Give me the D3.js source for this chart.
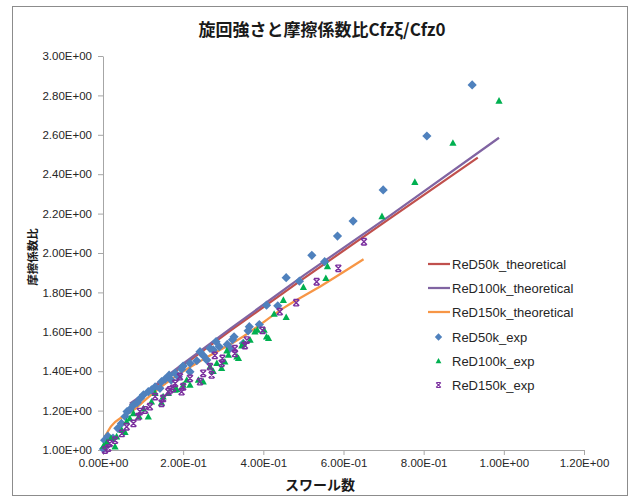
<!DOCTYPE html>
<html><head><meta charset="utf-8">
<script src="https://cdn.jsdelivr.net/npm/d3@7/dist/d3.min.js"></script>
<style>
html,body{margin:0;padding:0;background:#fff;}
svg{display:block;}
</style></head>
<body>
<script>
// ---- data ----
const xTickValues = [0, 0.2, 0.4, 0.6, 0.8, 1.0, 1.2];
const xTickLabels = ["0.00E+00","2.00E-01","4.00E-01","6.00E-01","8.00E-01","1.00E+00","1.20E+00"];
const yTickValues = [1.0,1.2,1.4,1.6,1.8,2.0,2.2,2.4,2.6,2.8,3.0];
const yTickLabels = ["1.00E+00","1.20E+00","1.40E+00","1.60E+00","1.80E+00","2.00E+00","2.20E+00","2.40E+00","2.60E+00","2.80E+00","3.00E+00"];

const seriesNames = ["ReD50k_theoretical","ReD100k_theoretical","ReD150k_theoretical","ReD50k_exp","ReD100k_exp","ReD150k_exp"];

const theo50k = [[0.067,1.228],[0.1,1.275],[0.2,1.43],[0.317,1.605],[0.5,1.87],[0.716,2.176],[0.935,2.484]];
const theo100k = [[0.067,1.235],[0.1,1.282],[0.2,1.438],[0.317,1.615],[0.5,1.885],[0.716,2.19],[0.988,2.585]];
const theo150k = [[0.003,1.06],[0.02,1.12],[0.05,1.17],[0.076,1.203],[0.12,1.28],[0.192,1.389],[0.25,1.46],[0.349,1.575],[0.45,1.72],[0.55,1.84],[0.65,1.968]];

const exp50k = [[0.001,1.005],[0.004,1.05],[0.012,1.07],[0.025,1.06],[0.037,1.11],[0.046,1.135],[0.055,1.17],[0.06,1.195],[0.067,1.205],[0.076,1.228],[0.085,1.24],[0.093,1.262],[0.101,1.28],[0.113,1.296],[0.121,1.305],[0.13,1.32],[0.142,1.313],[0.146,1.347],[0.155,1.36],[0.165,1.38],[0.17,1.355],[0.18,1.39],[0.188,1.372],[0.196,1.41],[0.2,1.426],[0.217,1.44],[0.217,1.397],[0.234,1.453],[0.242,1.499],[0.25,1.48],[0.259,1.457],[0.267,1.516],[0.275,1.508],[0.282,1.55],[0.29,1.524],[0.31,1.536],[0.317,1.516],[0.323,1.56],[0.327,1.575],[0.35,1.542],[0.362,1.605],[0.365,1.626],[0.39,1.637],[0.408,1.735],[0.436,1.732],[0.457,1.875],[0.49,1.857],[0.521,1.988],[0.553,1.956],[0.585,2.086],[0.624,2.162],[0.699,2.32],[0.808,2.594],[0.921,2.853]];

const exp100k = [[0.001,1.02],[0.01,1.04],[0.02,1.06],[0.03,1.017],[0.034,1.068],[0.047,1.1],[0.055,1.09],[0.059,1.144],[0.067,1.16],[0.076,1.186],[0.09,1.17],[0.101,1.21],[0.113,1.169],[0.121,1.245],[0.13,1.288],[0.146,1.24],[0.15,1.271],[0.163,1.288],[0.18,1.305],[0.184,1.308],[0.2,1.33],[0.209,1.355],[0.217,1.33],[0.238,1.355],[0.25,1.347],[0.267,1.423],[0.275,1.4],[0.284,1.44],[0.296,1.415],[0.304,1.448],[0.309,1.504],[0.313,1.482],[0.334,1.474],[0.338,1.466],[0.346,1.529],[0.35,1.542],[0.367,1.558],[0.379,1.601],[0.385,1.609],[0.402,1.609],[0.408,1.575],[0.413,1.567],[0.427,1.69],[0.45,1.761],[0.457,1.674],[0.5,1.826],[0.556,1.872],[0.56,1.932],[0.696,2.186],[0.778,2.36],[0.873,2.558],[0.988,2.772]];

const exp150k = [[0.005,1.0],[0.013,1.01],[0.017,1.034],[0.03,1.05],[0.047,1.084],[0.059,1.118],[0.076,1.135],[0.088,1.169],[0.092,1.195],[0.105,1.203],[0.117,1.22],[0.13,1.271],[0.146,1.237],[0.15,1.262],[0.163,1.296],[0.167,1.305],[0.175,1.313],[0.18,1.338],[0.192,1.372],[0.196,1.296],[0.2,1.321],[0.217,1.364],[0.242,1.347],[0.25,1.389],[0.267,1.423],[0.271,1.381],[0.279,1.48],[0.296,1.44],[0.298,1.465],[0.329,1.49],[0.329,1.514],[0.354,1.53],[0.359,1.558],[0.398,1.607],[0.441,1.702],[0.482,1.748],[0.533,1.854],[0.587,1.922],[0.651,2.057]];

// ---- layout ----
const W = 638, H = 499;
const plot = {left:103, right:584, top:56, bottom:450};
const colors = {red:"#C0504D", purple:"#8064A2", orange:"#F79646", blue:"#4F81BD", green:"#00B050", star:"#7A2E9E"};

const svg = d3.select("body").append("svg").attr("width", W).attr("height", H);
svg.append("rect").attr("x",12.5).attr("y",6.5).attr("width",615).attr("height",489)
  .attr("fill","#fff").attr("stroke","#8c8c8c").attr("stroke-width",1);

const x = d3.scaleLinear().domain([0,1.2]).range([plot.left, plot.right]);
const y = d3.scaleLinear().domain([1.0,3.0]).range([plot.bottom, plot.top]);

const tickFont = "Liberation Sans, Arial, sans-serif";

// axes
const xAxis = d3.axisBottom(x).tickValues(xTickValues)
  .tickFormat((d,i)=>xTickLabels[i]).tickSize(5).tickSizeOuter(0).tickPadding(4);
const yAxis = d3.axisLeft(y).tickValues(yTickValues)
  .tickFormat((d,i)=>yTickLabels[i]).tickSize(5).tickSizeOuter(0).tickPadding(6);

const gx = svg.append("g").attr("transform",`translate(0,${plot.bottom})`).call(xAxis);
const gy = svg.append("g").attr("transform",`translate(${plot.left},0)`).call(yAxis);
[gx,gy].forEach(g=>{
  g.select(".domain").attr("stroke","#a6a6a6");
  g.selectAll(".tick line").attr("stroke","#a6a6a6");
  g.selectAll(".tick text").attr("fill","#262626").style("font-family",tickFont).style("font-size","11.5px");
});

// title
svg.append("text").attr("x",322).attr("y",36).attr("text-anchor","middle")
  .style("font-family","Noto Sans CJK JP, sans-serif").style("font-weight","bold").style("font-size","17px")
  .attr("fill","#1a1a1a").text("旋回強さと摩擦係数比Cfzξ/Cfz0");
// axis titles
svg.append("text").attr("x",320).attr("y",490).attr("text-anchor","middle")
  .style("font-family","Noto Sans CJK JP, sans-serif").style("font-weight","bold").style("font-size","14px")
  .attr("fill","#1a1a1a").text("スワール数");
svg.append("text").attr("transform","translate(37,257) rotate(-90)").attr("text-anchor","middle")
  .style("font-family","Noto Sans CJK JP, sans-serif").style("font-weight","bold").style("font-size","11.5px")
  .attr("fill","#1a1a1a").text("摩擦係数比");

// lines
const line = d3.line().x(d=>x(d[0])).y(d=>y(d[1]));
const lineSmooth = d3.line().x(d=>x(d[0])).y(d=>y(d[1])).curve(d3.curveMonotoneX);
const g = svg.append("g");
g.append("path").datum(theo50k).attr("d",line).attr("fill","none").attr("stroke",colors.red).attr("stroke-width",2.25);
g.append("path").datum(theo100k).attr("d",line).attr("fill","none").attr("stroke",colors.purple).attr("stroke-width",2.25);
g.append("path").datum(theo150k).attr("d",lineSmooth).attr("fill","none").attr("stroke",colors.orange).attr("stroke-width",2.25);

// markers
const diamond = "M0,-4.6L4.6,0L0,4.6L-4.6,0Z";
const triangle = "M0,-3.8L3.6,2.8L-3.6,2.8Z";
const star = "M-3,-3L3,3M-3,3L3,-3M-2.5,-3.2L2.5,-3.2M-2.5,3.2L2.5,3.2";

function drawMarkers(data, path, fill, stroke){
  g.append("g").selectAll("path").data(data).join("path")
    .attr("transform",d=>`translate(${x(d[0])},${y(d[1])})`)
    .attr("d",path)
    .attr("fill",fill).attr("stroke",stroke||"none").attr("stroke-width",stroke?1.4:0);
}
drawMarkers(exp50k, diamond, colors.blue);
drawMarkers(exp100k, triangle, colors.green);
drawMarkers(exp150k, star, "none", colors.star);

// legend
const legendRows = [264, 288, 312, 337, 361, 385];
const lg = svg.append("g");
const legendTypes = [
  {type:"line", color:colors.red},
  {type:"line", color:colors.purple},
  {type:"line", color:colors.orange},
  {type:"marker", path:diamond, fill:colors.blue},
  {type:"marker", path:triangle, fill:colors.green},
  {type:"marker", path:star, stroke:colors.star}
];
seriesNames.forEach((name,i)=>{
  const yy = legendRows[i];
  const t = legendTypes[i];
  if(t.type==="line"){
    lg.append("line").attr("x1",428).attr("x2",450).attr("y1",yy).attr("y2",yy)
      .attr("stroke",t.color).attr("stroke-width",2.25);
  } else {
    lg.append("path").attr("transform",`translate(438.5,${yy}) scale(0.8)`).attr("d",t.path)
      .attr("fill",t.fill||"none").attr("stroke",t.stroke||"none").attr("stroke-width",t.stroke?1.3:0);
  }
  lg.append("text").attr("x",452).attr("y",yy).attr("dy","0.35em")
    .style("font-family",tickFont).style("font-size","13px").attr("fill","#262626").text(name);
});
</script>
</body></html>
